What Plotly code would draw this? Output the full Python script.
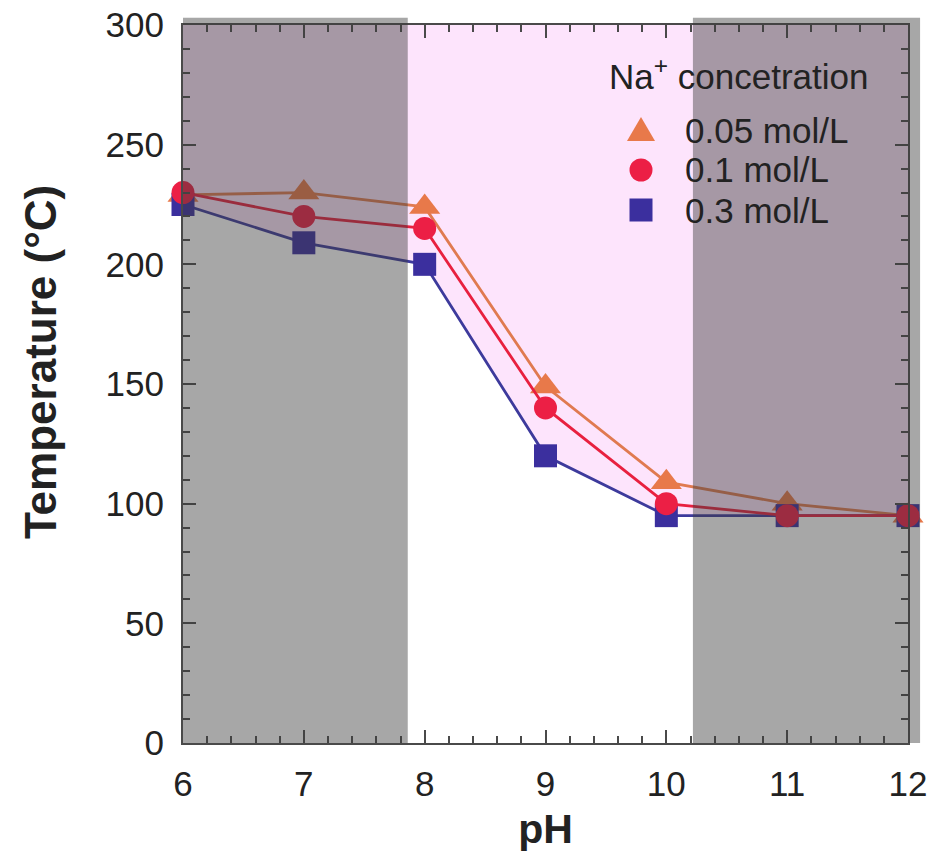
import plotly.graph_objects as go

# pH values and softening temperature (°C) for each Na+ concentration
ph = [6, 7, 8, 9, 10, 11, 12]
temp_005 = [229, 230, 224, 149, 109, 100, 95]
temp_01 = [230, 220, 215, 140, 100, 95, 95]
temp_03 = [225, 209, 200, 120, 95, 95, 95]

series_names = ["0.05 mol/L", "0.1 mol/L", "0.3 mol/L"]
series_colors = ["#e8794a", "#ec1f45", "#3b2f9e"]
line_colors = ["#e07a50", "#e8203f", "#3d3a9c"]
legend_title = "Na<sup>+</sup> concetration"

x_range = [6, 12]
y_range = [0, 300]
x_ticks = [6, 7, 8, 9, 10, 11, 12]
y_ticks = [0, 50, 100, 150, 200, 250, 300]

# shaded pH bands (pH limits) and their top (°C)
gray_bands = [(6.0, 7.86), (10.22, 12.1)]
band_top = 303

FONT = "Liberation Sans, Arial, sans-serif"
TXT = "#222222"
AX = "#4a4a4a"

W, H = 931, 854
M_L, M_R, M_T, M_B = 183, 23, 25, 111


def xp(v):
    return (v - x_range[0]) / (x_range[1] - x_range[0])


def yp(v):
    return (v - y_range[0]) / (y_range[1] - y_range[0])


def px_x(p):
    return (p - M_L) / (W - M_L - M_R)


def px_y(p):
    return (H - M_B - p) / (H - M_T - M_B)


fig = go.Figure()

# pink region above the 0.3 mol/L curve
fig.add_trace(go.Scatter(x=ph, y=[y_range[1]] * len(ph), mode="lines",
                         line=dict(width=0), showlegend=False, hoverinfo="skip"))
fig.add_trace(go.Scatter(x=ph, y=temp_03, mode="lines", line=dict(width=0),
                         fill="tonexty", fillcolor="rgb(253,228,252)",
                         showlegend=False, hoverinfo="skip"))

series = [
    (temp_005, "triangle-up", 27, 0),
    (temp_03, "square", 23, 2),
    (temp_01, "circle", 23, 1),
]
for vals, sym, size, i in series:
    fig.add_trace(go.Scatter(
        x=ph, y=vals, name=series_names[i], mode="lines+markers",
        line=dict(color=line_colors[i], width=2.8),
        marker=dict(symbol=sym, size=size, color=series_colors[i]),
        cliponaxis=False, showlegend=False))

for lo, hi in gray_bands:
    fig.add_shape(type="rect", xref="paper", yref="paper",
                  x0=xp(lo), x1=xp(hi), y0=yp(0), y1=yp(band_top),
                  fillcolor="rgba(60,60,60,0.45)", line=dict(width=0),
                  layer="above")

# legend box, drawn by hand so the symbols can be large
fig.add_annotation(text=legend_title, xref="paper", yref="paper",
                   x=px_x(607), y=px_y(74), xanchor="left", yanchor="middle",
                   showarrow=False, font=dict(family=FONT, size=35, color=TXT))
legend_rows = [130, 170, 210]
mx = 641
for i, row in enumerate(legend_rows):
    fig.add_annotation(text=series_names[i], xref="paper", yref="paper",
                       x=px_x(683), y=px_y(row), xanchor="left",
                       yanchor="middle", showarrow=False,
                       font=dict(family=FONT, size=35, color=TXT))
    if i == 0:
        r = 14
        path = (f"M {px_x(mx - r)} {px_y(row + 11)} L {px_x(mx + r)} {px_y(row + 11)} "
                f"L {px_x(mx)} {px_y(row - 13)} Z")
        fig.add_shape(type="path", path=path, xref="paper", yref="paper",
                      fillcolor=series_colors[i], line=dict(width=0))
    elif i == 1:
        r = 11.5
        fig.add_shape(type="circle", xref="paper", yref="paper",
                      x0=px_x(mx - r), x1=px_x(mx + r),
                      y0=px_y(row + r), y1=px_y(row - r),
                      fillcolor=series_colors[i], line=dict(width=0))
    else:
        r = 11.5
        fig.add_shape(type="rect", xref="paper", yref="paper",
                      x0=px_x(mx - r), x1=px_x(mx + r),
                      y0=px_y(row + r), y1=px_y(row - r),
                      fillcolor=series_colors[i], line=dict(width=0))

axis_common = dict(
    showline=True, linecolor=AX, linewidth=2, mirror="ticks",
    ticks="inside", ticklen=13, tickwidth=2, tickcolor=AX,
    showgrid=False, zeroline=False, automargin=False,
    tickfont=dict(family=FONT, size=35, color=TXT),
)

fig.update_xaxes(range=x_range, tickvals=x_ticks, ticklabelstandoff=9,
                 minor=dict(ticks="inside", ticklen=7, dtick=0.2,
                            tickwidth=2, tickcolor=AX),
                 title=dict(text="<b>pH</b>", standoff=12,
                            font=dict(family=FONT, size=41, color=TXT)),
                 **axis_common)
fig.update_yaxes(range=y_range, tickvals=y_ticks, ticklabelstandoff=10,
                 minor=dict(ticks="inside", ticklen=7, dtick=10,
                            tickwidth=2, tickcolor=AX),
                 **axis_common)

fig.add_annotation(text="<b>Temperature (°C)</b>", textangle=-90,
                   xref="paper", yref="paper", x=px_x(40), y=px_y(362),
                   xanchor="center", yanchor="middle", showarrow=False,
                   font=dict(family=FONT, size=44, color=TXT))

fig.update_layout(
    width=W, height=H,
    margin=dict(l=M_L, r=M_R, t=M_T, b=M_B),
    paper_bgcolor="white", plot_bgcolor="white",
    font=dict(family=FONT, color=TXT),
    showlegend=False,
)

fig.write_html("out.html")
